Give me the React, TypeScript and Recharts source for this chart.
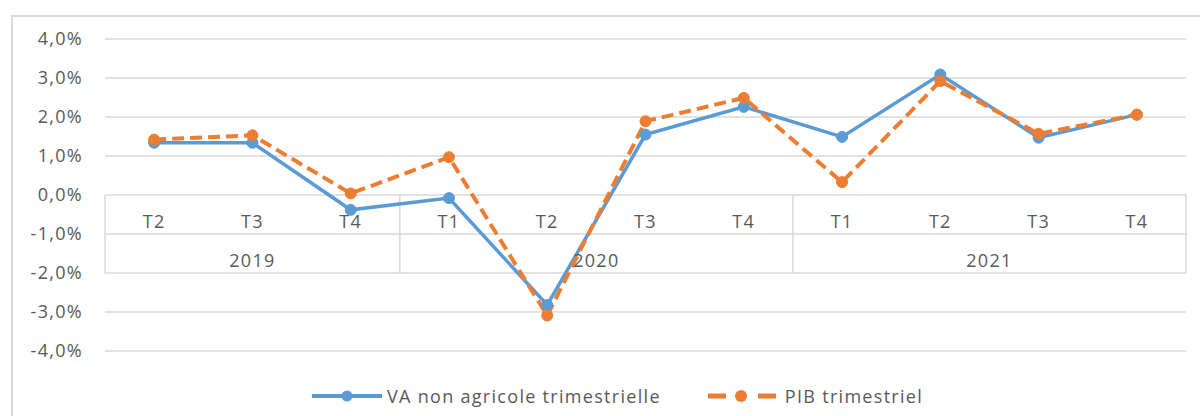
import React from "react";
import {
  LineChart,
  Line,
  XAxis,
  YAxis,
  CartesianGrid,
  ReferenceLine,
  ReferenceDot,
} from "recharts";

// quarters shown on the first row of the category table
const quarters = ["T2", "T3", "T4", "T1", "T2", "T3", "T4", "T1", "T2", "T3", "T4"];
// years on the second row, with how many quarters each one covers
const years = ["2019", "2020", "2021"];
const yearSpans = [3, 4, 4];

const vaNonAgricole = [1.34, 1.34, -0.38, -0.08, -2.82, 1.55, 2.26, 1.49, 3.09, 1.47, 2.06];
const pibTrimestriel = [1.42, 1.53, 0.04, 0.97, -3.09, 1.89, 2.49, 0.33, 2.92, 1.57, 2.06];

const yTicks = [-4, -3, -2, -1, 0, 1, 2, 3, 4];

const BLUE = "#5B9BD5";
const ORANGE = "#ED7D31";
const TEXT = "#595959";
const GRID = "#d9d9d9";
const FONT = "'Open Sans', sans-serif";

// each quarter sits in the middle of its slot on a 0..11 numeric axis
const data = quarters.map((q, i) => ({
  x: i + 0.5,
  quarter: q,
  va: vaNonAgricole[i],
  pib: pibTrimestriel[i],
}));

// year boundaries and year label centres, in axis units
const yearBounds = yearSpans.reduce<number[]>((acc, n) => [...acc, acc[acc.length - 1] + n], [0]);
const yearCenters = years.map((_, i) => (yearBounds[i] + yearBounds[i + 1]) / 2);

const fmtPct = (v: number) => `${v.toFixed(1).replace(".", ",")}%`;

const YTick = (props: any) => {
  const { x, y, payload } = props;
  return (
    <text
      x={x}
      y={y}
      dy="0.36em"
      textAnchor="end"
      fill={TEXT}
      fontSize={18}
      fontFamily={FONT}
      letterSpacing={1.3}
    >
      {fmtPct(payload.value)}
    </text>
  );
};

const cellLabel = (text: string) => (props: any) => (
  <text
    x={props.cx}
    y={props.cy + 7}
    dy="0.36em"
    textAnchor="middle"
    fill={TEXT}
    fontSize={18}
    fontFamily={FONT}
    letterSpacing={1.3}
  >
    {text}
  </text>
);

const ChartLegend = () => (
  <div
    style={{
      position: "absolute",
      left: 312,
      top: 384,
      display: "flex",
      alignItems: "center",
      fontFamily: FONT,
      fontSize: 18,
      letterSpacing: 1.3,
      color: TEXT,
      whiteSpace: "nowrap",
    }}
  >
    <svg width={70} height={14} style={{ marginRight: 5 }}>
      <line x1={0} y1={7} x2={70} y2={7} stroke={BLUE} strokeWidth={4} />
      <circle cx={35} cy={7} r={5.5} fill={BLUE} />
    </svg>
    <span>VA non agricole trimestrielle</span>
    <svg width={68} height={14} style={{ marginLeft: 47, marginRight: 9 }}>
      <line x1={0} y1={7} x2={18} y2={7} stroke={ORANGE} strokeWidth={5} />
      <line x1={50} y1={7} x2={68} y2={7} stroke={ORANGE} strokeWidth={5} />
      <circle cx={33} cy={7} r={6} fill={ORANGE} />
    </svg>
    <span>PIB trimestriel</span>
  </div>
);

export default function App() {
  return (
    <div style={{ position: "absolute", left: 0, top: 0, width: 1200, height: 416, background: "#fff", overflow: "hidden" }}>
      <div
        style={{
          position: "absolute",
          left: 11,
          top: 15,
          width: 1200,
          height: 420,
          border: `2px solid ${GRID}`,
          boxSizing: "border-box",
        }}
      />
      <div style={{ position: "absolute", left: 0, top: 0 }}>
        <LineChart
          width={1200}
          height={416}
          data={data}
          margin={{ top: 39, right: 14, bottom: 65, left: 0 }}
        >
          <CartesianGrid vertical={false} stroke={GRID} strokeWidth={1.5} />
          <XAxis dataKey="x" type="number" domain={[0, 11]} hide />
          <YAxis
            domain={[-4, 4]}
            ticks={yTicks}
            width={105}
            axisLine={false}
            tickLine={false}
            tickSize={0}
            tickMargin={22}
            tick={<YTick />}
          />
          {yearBounds.map((b) => (
            <ReferenceLine
              key={`b${b}`}
              segment={[{ x: b, y: 0 }, { x: b, y: -2 }]}
              stroke={GRID}
              strokeWidth={1.5}
            />
          ))}
          {quarters.map((q, i) => (
            <ReferenceDot key={`q${i}`} x={i + 0.5} y={-0.5} r={0} shape={cellLabel(q)} />
          ))}
          {years.map((yr, i) => (
            <ReferenceDot key={`y${yr}`} x={yearCenters[i]} y={-1.5} r={0} shape={cellLabel(yr)} />
          ))}
          <Line
            type="linear"
            dataKey="va"
            name="VA non agricole trimestrielle"
            stroke={BLUE}
            strokeWidth={3.5}
            dot={{ r: 5.5, fill: BLUE, stroke: BLUE, strokeWidth: 1 }}
            activeDot={false}
            isAnimationActive={false}
          />
          <Line
            type="linear"
            dataKey="pib"
            name="PIB trimestriel"
            stroke={ORANGE}
            strokeWidth={4}
            strokeDasharray="12 6"
            dot={{ r: 5.5, fill: ORANGE, stroke: ORANGE, strokeWidth: 1, strokeDasharray: "0" }}
            activeDot={false}
            isAnimationActive={false}
          />
        </LineChart>
      </div>
      <ChartLegend />
    </div>
  );
}
